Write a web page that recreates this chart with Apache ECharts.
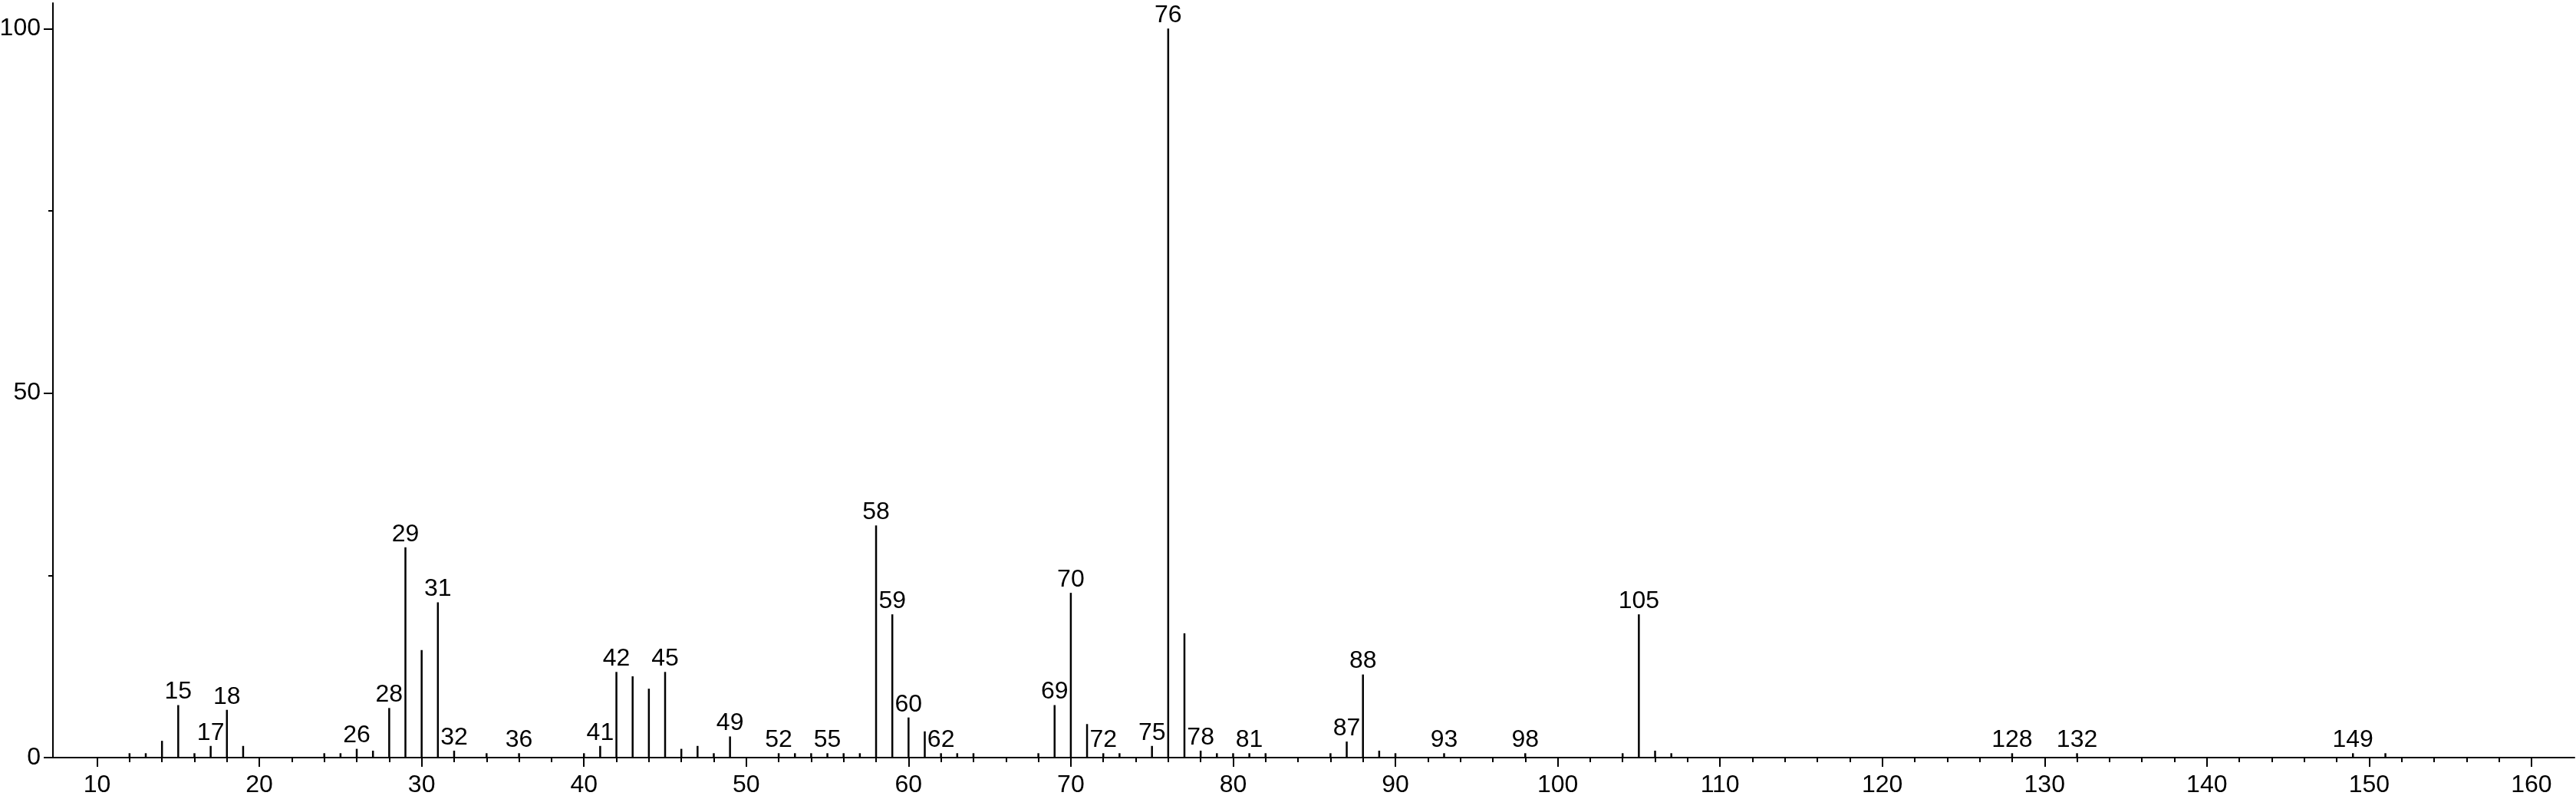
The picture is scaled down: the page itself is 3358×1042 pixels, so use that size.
<!DOCTYPE html>
<html><head><meta charset="utf-8">
<script src="https://cdn.jsdelivr.net/npm/echarts@6/dist/echarts.min.js"></script>
<style>html,body{margin:0;padding:0;background:#fff}#chart{width:3358px;height:1042px}</style>
</head><body><div id="chart"></div>
<script>
// m/z values of the peaks
const mz = [12,13,14,15,16,17,18,19,24,25,26,27,28,29,30,31,32,34,36,40,41,42,43,44,45,46,47,48,49,52,53,54,55,56,57,58,59,60,61,62,63,64,68,69,70,71,72,73,75,76,77,78,79,80,81,82,86,87,88,89,90,93,98,104,105,106,107,128,132,149,151];
// relative intensities (%)
const intensity = [0.6,0.6,2.3,7.2,0.6,1.6,6.55,1.6,0.6,0.6,1.2,0.95,6.8,28.85,14.75,21.3,0.95,0.6,0.6,0.6,1.6,11.75,11.15,9.45,11.75,1.2,1.6,0.6,2.9,0.6,0.6,0.6,0.6,0.6,0.6,31.85,19.65,5.5,3.6,0.6,0.6,0.6,0.6,7.2,22.6,4.6,0.6,0.6,1.6,100,17.05,0.95,0.6,0.6,0.6,0.6,0.6,2.2,11.4,0.95,0.6,0.6,0.6,0.6,19.65,0.95,0.6,0.6,0.6,0.6,0.6];
// peaks carrying an m/z label
const labeledMz = [15,17,18,26,28,29,31,32,36,41,42,45,49,52,55,58,59,60,62,69,70,72,75,76,78,81,87,88,93,98,105,128,132,149];
// axis ticks
const xTickLabels = [10,20,30,40,50,60,70,80,90,100,110,120,130,140,150,160];
const xMinorTicks = [12,14,16,18,22,24,26,28,32,34,36,38,42,44,46,48,52,54,56,58,62,64,66,68,72,74,76,78,82,84,86,88,92,94,96,98,102,104,106,108,112,114,116,118,122,124,126,128,132,134,136,138,142,144,146,148,152,154,156,158];
const yTickLabels = [0,50,100];
const yMinorTicks = [25,75];

const FONT = 'Liberation Sans, Arial, Helvetica, sans-serif';
const FS = 32;
const X_MIN = 7.28, X_MAX = 162.65, Y_MIN = 0, Y_MAX = 103.5;
const line = {color:'#000', width:2};

const data = mz.map((m, i) => ({
  value: [m, intensity[i]],
  label: {show: labeledMz.includes(m)}
}));

const chart = echarts.init(document.getElementById('chart'));
chart.setOption({
  animation: false,
  backgroundColor: '#fff',
  grid: {left: 69, right: 2, top: 4, bottom: 54, containLabel: false, outerBoundsMode: 'none'},
  xAxis: [
    {type:'value', min:X_MIN, max:X_MAX, position:'bottom',
     axisLine:{show:true, onZero:false, lineStyle:line},
     axisTick:{show:true, customValues:xTickLabels, length:12, lineStyle:line},
     axisLabel:{customValues:xTickLabels, margin:20, fontSize:FS, lineHeight:FS, color:'#000', fontFamily:FONT},
     splitLine:{show:false}},
    {type:'value', min:X_MIN, max:X_MAX, position:'bottom', gridIndex:0,
     axisLine:{show:false},
     axisTick:{show:true, customValues:xMinorTicks, length:6, lineStyle:line},
     axisLabel:{show:false}, splitLine:{show:false}}
  ],
  yAxis: [
    {type:'value', min:Y_MIN, max:Y_MAX, position:'left',
     axisLine:{show:true, onZero:false, lineStyle:line},
     axisTick:{show:true, customValues:yTickLabels, length:12, lineStyle:line},
     axisLabel:{customValues:yTickLabels, margin:16, fontSize:FS, lineHeight:FS, color:'#000', fontFamily:FONT},
     splitLine:{show:false}},
    {type:'value', min:Y_MIN, max:Y_MAX, position:'left', gridIndex:0,
     axisLine:{show:false},
     axisTick:{show:true, customValues:yMinorTicks, length:6, lineStyle:line},
     axisLabel:{show:false}, splitLine:{show:false}}
  ],
  series: [{
    type: 'bar',
    xAxisIndex: 0, yAxisIndex: 0,
    barWidth: 2.5,
    itemStyle: {color: '#000'},
    label: {position:'top', distance:1, formatter: p => String(p.value[0]),
            fontSize:FS, lineHeight:FS, color:'#000', fontFamily:FONT},
    labelLayout: {hideOverlap: false},
    data: data
  }]
});
</script>
</body></html>
